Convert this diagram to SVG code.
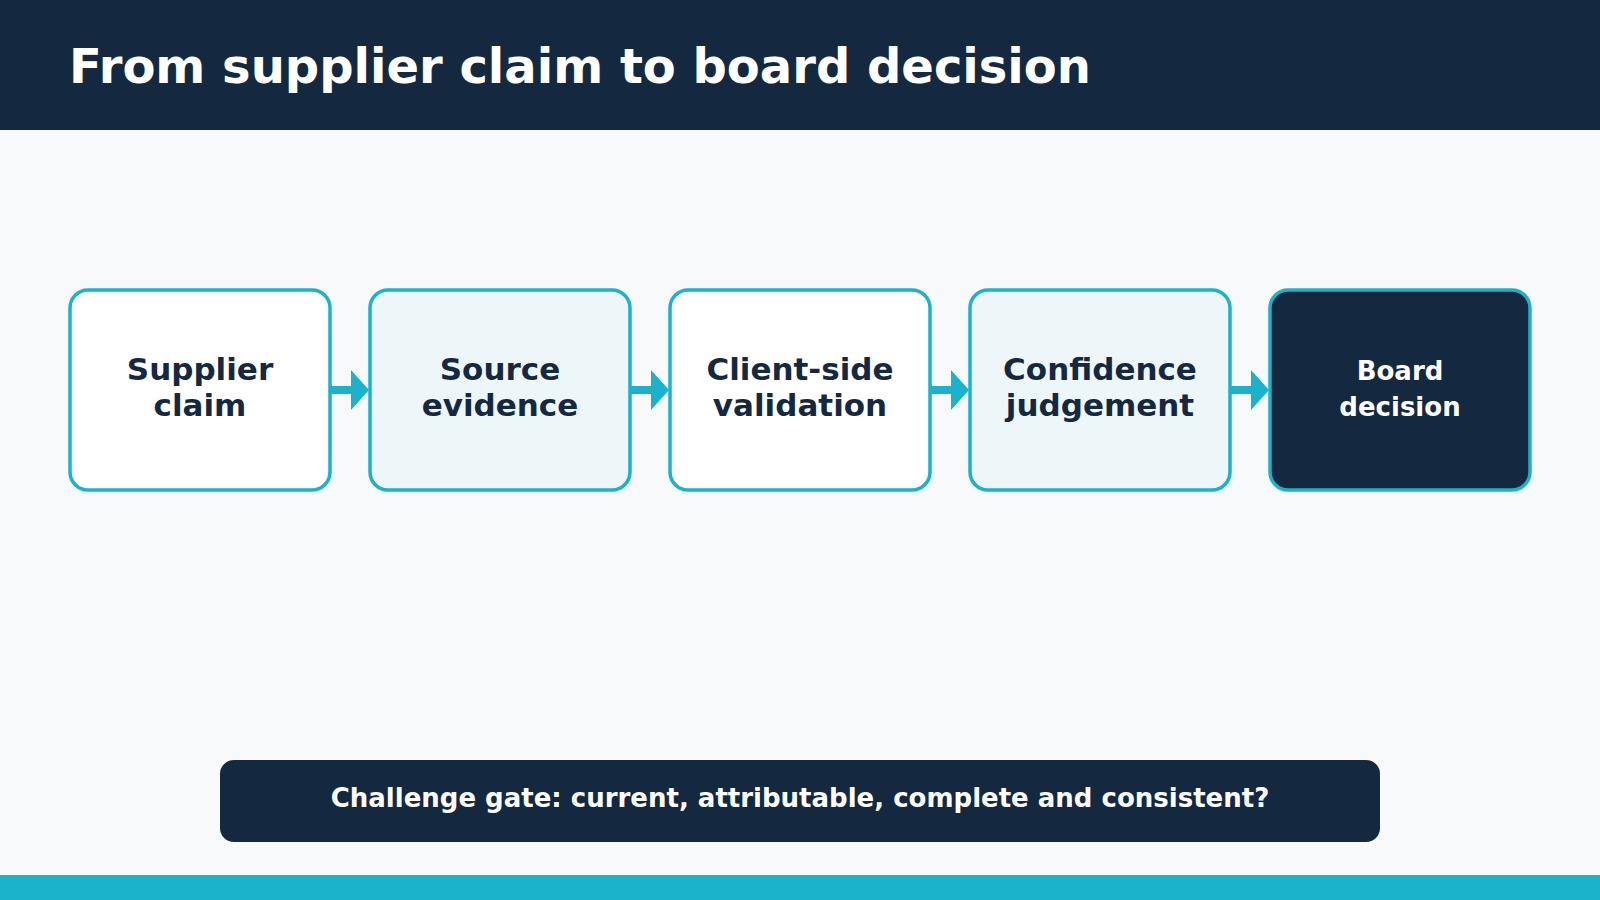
<svg xmlns="http://www.w3.org/2000/svg" width="1600" height="900" viewBox="0 0 1600 900">
<style>
.box{stroke:#1bb3cc;stroke-width:3.5}
.t{font-family:"DejaVu Sans",sans-serif;font-weight:bold;text-anchor:middle;fill:#14283f;font-size:31px}
.arrow{fill:#1bb3cc}
</style>
<rect width="1600" height="900" fill="#f7f9fb"/>
<rect width="1600" height="130" fill="#14283f"/>
<text x="69" y="83" font-family="DejaVu Sans,sans-serif" font-weight="bold" font-size="48" fill="#ffffff">From supplier claim to board decision</text>
<g id="connectors">
<path class="arrow" d="M330 386H351V370L369 390L351 410V394H330Z"/>
<path class="arrow" d="M630 386H651V370L669 390L651 410V394H630Z"/>
<path class="arrow" d="M930 386H951V370L969 390L951 410V394H930Z"/>
<path class="arrow" d="M1230 386H1251V370L1269 390L1251 410V394H1230Z"/>
</g>
<g id="n1"><rect class="box" x="70" y="290" width="260" height="200" rx="18" fill="#ffffff"/><text class="t" x="200" y="380">Supplier</text><text class="t" x="200" y="416">claim</text></g>
<g id="n2"><rect class="box" x="370" y="290" width="260" height="200" rx="18" fill="#edf6f9"/><text class="t" x="500" y="380">Source</text><text class="t" x="500" y="416">evidence</text></g>
<g id="n3"><rect class="box" x="670" y="290" width="260" height="200" rx="18" fill="#ffffff"/><text class="t" x="800" y="380">Client-side</text><text class="t" x="800" y="416">validation</text></g>
<g id="n4"><rect class="box" x="970" y="290" width="260" height="200" rx="18" fill="#edf6f9"/><text class="t" x="1100" y="380">Confidence</text><text class="t" x="1100" y="416">judgement</text></g>
<g id="n5"><rect class="box" x="1270" y="290" width="260" height="200" rx="18" fill="#14283f"/><text class="t" x="1400" y="380" font-size="26" fill="#ffffff" style="font-size:26px;fill:#fff">Board</text><text class="t" x="1400" y="416" style="font-size:26px;fill:#fff">decision</text></g>
<g id="gate"><rect x="220" y="760" width="1160" height="82" rx="14" fill="#14283f"/><text class="t" x="800" y="807" style="font-size:26px;fill:#fff">Challenge gate: current, attributable, complete and consistent?</text></g>
<rect y="875" width="1600" height="25" fill="#1bb3cc"/>
</svg>
